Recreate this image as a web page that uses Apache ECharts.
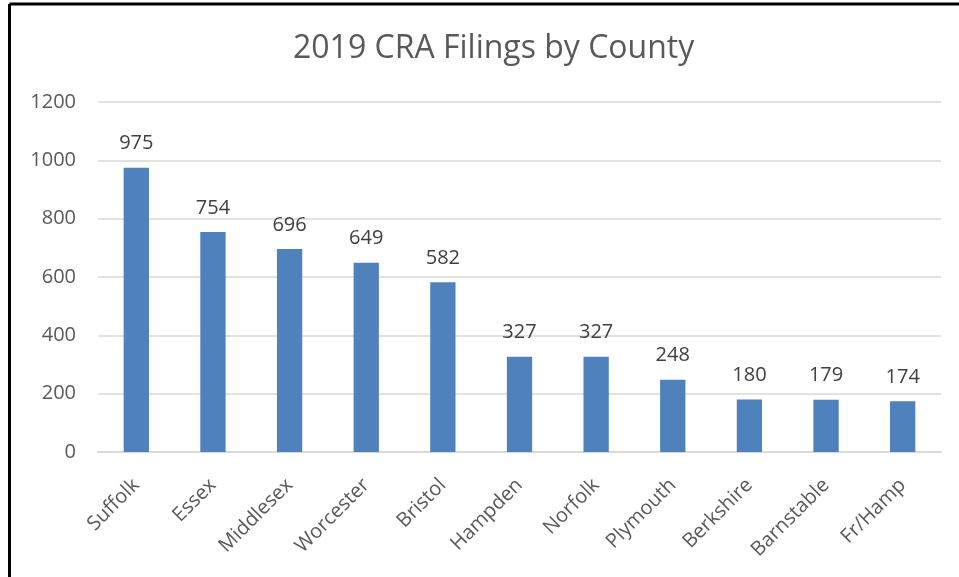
<!DOCTYPE html>
<html>
<head>
<meta charset="utf-8">
<script src="https://cdn.jsdelivr.net/npm/echarts@6/dist/echarts.min.js"></script>
<style>
  html, body { margin: 0; padding: 0; background: #fff; }
  #chart { width: 959px; height: 577px; }
</style>
</head>
<body>
<div id="chart"></div>
<script>
// Filings per county, 2019
const counties = ['Suffolk', 'Essex', 'Middlesex', 'Worcester', 'Bristol', 'Hampden',
  'Norfolk', 'Plymouth', 'Berkshire', 'Barnstable', 'Fr/Hamp'];
const filings = [975, 754, 696, 649, 582, 327, 327, 248, 180, 179, 174];
const yTicks = [0, 200, 400, 600, 800, 1000, 1200];

const FONT = '"Open Sans", "Liberation Sans", sans-serif';
const TEXT = '#595959';

const chart = echarts.init(document.getElementById('chart'), null, { renderer: 'canvas' });
chart.setOption({
  animation: false,
  backgroundColor: '#fff',
  title: {
    text: '2019 CRA Filings by County',
    left: 288,
    top: 28,
    textStyle: { fontFamily: FONT, fontSize: 32, fontWeight: 'normal', color: TEXT }
  },
  grid: { left: 98, right: 18, top: 102, bottom: 125, containLabel: false },
  xAxis: {
    type: 'category',
    data: counties,
    axisLine: { show: true, lineStyle: { color: '#d9d9d9', width: 2 } },
    axisTick: { show: false },
    axisLabel: {
      rotate: 45,
      interval: 0,
      margin: 30,
      fontFamily: FONT,
      fontSize: 20,
      color: TEXT
    }
  },
  yAxis: {
    type: 'value',
    min: yTicks[0],
    max: yTicks[yTicks.length - 1],
    interval: 200,
    axisLine: { show: false },
    axisTick: { show: false },
    splitLine: { lineStyle: { color: '#d9d9d9', width: 1.5 } },
    axisLabel: {
      margin: 22,
      fontFamily: FONT,
      fontSize: 20,
      color: TEXT,
      formatter: v => String(v)
    }
  },
  series: [{
    type: 'bar',
    data: filings,
    barWidth: '33%',
    itemStyle: { color: '#4f81bd' },
    label: {
      show: true,
      position: 'top',
      distance: 14,
      fontFamily: FONT,
      fontSize: 20,
      color: '#404040'
    }
  }],
  graphic: [
    { type: 'line', shape: { x1: 9.5, y1: 4, x2: 959, y2: 4 }, style: { stroke: '#000', lineWidth: 3 } },
    { type: 'line', shape: { x1: 9.5, y1: 4, x2: 9.5, y2: 577 }, style: { stroke: '#000', lineWidth: 3 } }
  ]
});
</script>
</body>
</html>
